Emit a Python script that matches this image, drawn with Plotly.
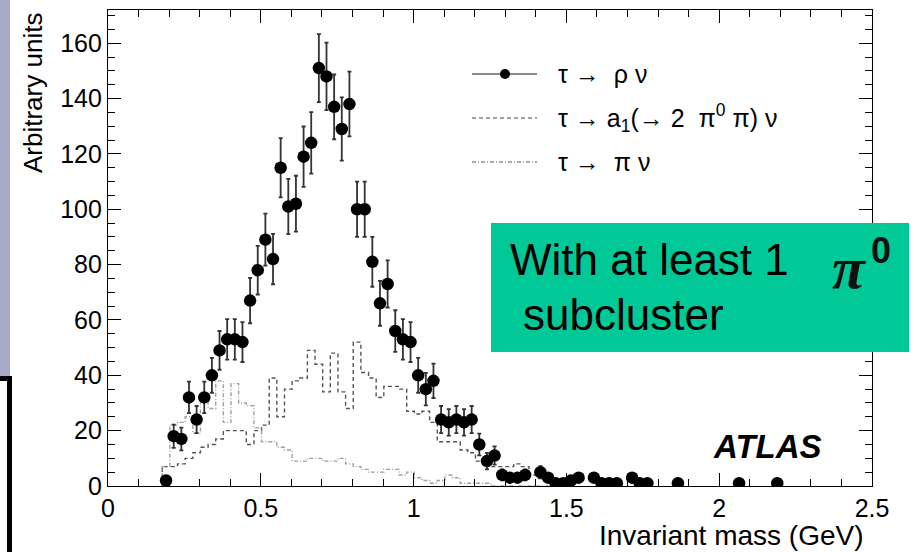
import plotly.graph_objects as go

# ---------------------------------------------------------------------------
# Measured points: bin centre (GeV), entries and statistical uncertainty
# ---------------------------------------------------------------------------
mass = [0.19, 0.215, 0.24, 0.265, 0.29, 0.315, 0.34, 0.365, 0.39, 0.415,
        0.44, 0.465, 0.49, 0.515, 0.54, 0.565, 0.59, 0.615, 0.64, 0.665,
        0.69, 0.715, 0.74, 0.765, 0.79, 0.815, 0.84, 0.865, 0.89, 0.915,
        0.94, 0.965, 0.99, 1.015, 1.04, 1.065, 1.09, 1.115, 1.14, 1.165,
        1.19, 1.215, 1.24, 1.265, 1.29, 1.315, 1.34, 1.365, 1.415, 1.44,
        1.465, 1.49, 1.515, 1.54, 1.59, 1.615, 1.64, 1.665, 1.715, 1.74,
        1.765, 1.865, 2.065, 2.19]
rho_counts = [2, 18, 17, 32, 24, 32, 40, 49, 53, 53,
              52, 67, 78, 89, 82, 115, 101, 102, 119, 124,
              151, 148, 137, 129, 138, 100, 100, 81, 66, 73,
              56, 53, 52, 40, 35, 38, 24, 23, 24, 23,
              24, 15, 9, 11, 4, 3, 3, 4, 5, 3,
              1, 1, 2, 3, 3, 1, 1, 1, 3, 1,
              1, 1, 1, 1]
rho_errors = [1.4, 4.2, 4.1, 5.7, 4.9, 5.7, 6.3, 7.0, 7.3, 7.3,
              7.2, 8.2, 8.8, 9.4, 9.1, 10.7, 10.0, 10.1, 10.9, 11.1,
              12.3, 12.2, 11.7, 11.4, 11.7, 10.0, 10.0, 9.0, 8.1, 8.5,
              7.5, 7.3, 7.2, 6.3, 5.9, 6.2, 4.9, 4.8, 4.9, 4.8,
              4.9, 3.9, 3.0, 3.3, 2.0, 1.7, 1.7, 2.0, 2.2, 1.7,
              1.0, 1.0, 1.4, 1.7, 1.7, 1.0, 1.0, 1.0, 1.7, 1.0,
              1.0, 1.0, 1.0, 1.0]

# ---------------------------------------------------------------------------
# Background templates (0.025 GeV bins)
# ---------------------------------------------------------------------------
hist_centres = [0.19, 0.215, 0.24, 0.265, 0.29, 0.315, 0.34, 0.365, 0.39, 0.415,
                0.44, 0.465, 0.49, 0.515, 0.54, 0.565, 0.59, 0.615, 0.64, 0.665,
                0.69, 0.715, 0.74, 0.765, 0.79, 0.815, 0.84, 0.865, 0.89, 0.915,
                0.94, 0.965, 0.99, 1.015, 1.04, 1.065, 1.09, 1.115, 1.14, 1.165,
                1.19, 1.215, 1.24, 1.265, 1.29, 1.315, 1.34, 1.365, 1.39, 1.415,
                1.44, 1.465, 1.49]
bin_width = 0.025
a1_counts = [7, 7, 8, 10, 12, 14, 15, 17, 20, 20,
             20, 15, 20, 22, 39, 25, 35, 38, 39, 49,
             44, 34, 48, 34, 28, 52, 41, 39, 32, 36,
             36, 35, 27, 26, 27, 23, 16, 16, 16, 13,
             12, 9, 8, 7, 7, 7, 8, 7, 4, 3,
             2, 2, 1]
pi_counts = [7, 22, 23, 25, 19, 32, 28, 38, 23, 37,
             30, 29, 21, 16, 16, 14, 13, 9, 9, 10,
             10, 9, 9, 10, 8, 7, 6, 5, 5, 6,
             6, 4, 5, 3, 2, 1, 2, 4, 3, 1,
             1, 1, 1, 0, 0, 0, 0, 0, 0, 0,
             0, 0, 0]

x_ticks = [0, 0.5, 1, 1.5, 2, 2.5]
x_tick_text = ["0", "0.5", "1", "1.5", "2", "2.5"]
y_ticks = [0, 20, 40, 60, 80, 100, 120, 140, 160]

legend_labels = ["τ →\u00a0\u00a0ρ ν",
                 "τ → a<sub>1</sub>(→ 2\u00a0\u00a0π<sup>0</sup> π) ν",
                 "τ →\u00a0\u00a0π ν"]

# ---------------------------------------------------------------------------
# Page geometry
# ---------------------------------------------------------------------------
W, H = 913, 552
ML, MR, MT, MB = 108, 41, 10, 66
PW, PH = W - ML - MR, H - MT - MB
SANS = "Liberation Sans, Arial, Helvetica, sans-serif"


def px(x):
    """Horizontal page pixel -> paper coordinate."""
    return (x - ML) / PW


def py(y):
    """Vertical page pixel (from top) -> paper coordinate."""
    return (H - MB - y) / PH


def step_outline(centres, values, width):
    xs = [centres[0] - width / 2]
    ys = [0]
    for c, v in zip(centres, values):
        xs.append(c - width / 2)
        ys.append(v)
    xs.append(centres[-1] + width / 2)
    ys.append(values[-1])
    xs.append(centres[-1] + width / 2)
    ys.append(0)
    return xs, ys


fig = go.Figure()

a1_x, a1_y = step_outline(hist_centres, a1_counts, bin_width)
fig.add_trace(go.Scatter(x=a1_x, y=a1_y, mode="lines", line_shape="hv",
                         line=dict(color="#555555", width=1.4, dash="4px,3px"),
                         showlegend=False, hoverinfo="skip"))

pi_x, pi_y = step_outline(hist_centres, pi_counts, bin_width)
fig.add_trace(go.Scatter(x=pi_x, y=pi_y, mode="lines", line_shape="hv",
                         line=dict(color="#a0a0a0", width=1.4,
                                   dash="4px,2px,1px,2px"),
                         showlegend=False, hoverinfo="skip"))

fig.add_trace(go.Scatter(x=mass, y=rho_counts, mode="markers",
                         marker=dict(color="black", size=12.5),
                         error_y=dict(type="data", array=rho_errors,
                                      color="#333333", thickness=1.8, width=2),
                         showlegend=False))

shapes = []
annotations = []

# legend block
legend_rows = [74, 118, 162]
legend_styles = [dict(color="#8a8a8a", width=2, dash="solid"),
                 dict(color="#444444", width=1, dash="4px,3px"),
                 dict(color="#aaaaaa", width=2, dash="4px,2px,1px,2px")]
for row, style, label in zip(legend_rows, legend_styles, legend_labels):
    shapes.append(dict(type="line", xref="paper", yref="paper",
                       x0=px(472), x1=px(537), y0=py(row), y1=py(row),
                       line=style, layer="above"))
    annotations.append(dict(text=label, xref="paper", yref="paper",
                            x=px(556), y=py(row), xanchor="left",
                            yanchor="middle", showarrow=False,
                            font=dict(family=SANS, size=25, color="black")))
shapes.append(dict(type="circle", xref="paper", yref="paper",
                   xsizemode="pixel", ysizemode="pixel",
                   xanchor=px(505), yanchor=py(legend_rows[0]),
                   x0=-5, x1=5, y0=-5, y1=5,
                   fillcolor="black", line=dict(color="black", width=0),
                   layer="above"))

# highlighted caption box
shapes.append(dict(type="rect", xref="paper", yref="paper",
                   x0=px(491), x1=px(909), y0=py(352), y1=py(223),
                   fillcolor="#00c997", line=dict(width=0), layer="above"))
annotations.append(dict(text="With at least 1", xref="paper", yref="paper",
                        x=px(508), y=py(259), xanchor="left", yanchor="middle",
                        showarrow=False,
                        font=dict(family=SANS, size=44, color="black")))
annotations.append(dict(text="subcluster", xref="paper", yref="paper",
                        x=px(521), y=py(314), xanchor="left", yanchor="middle",
                        showarrow=False,
                        font=dict(family=SANS, size=44, color="black")))
annotations.append(dict(text="<b><i>π</i></b>", xref="paper", yref="paper",
                        x=px(849), y=py(268), xanchor="center",
                        yanchor="middle", showarrow=False,
                        font=dict(family="Liberation Serif, serif", size=60,
                                  color="#111111")))
annotations.append(dict(text="<b>0</b>", xref="paper", yref="paper",
                        x=px(881), y=py(250), xanchor="center",
                        yanchor="middle", showarrow=False,
                        font=dict(family=SANS, size=36, color="#111111")))

# experiment label
annotations.append(dict(text="<b><i>ATLAS</i></b>", xref="paper", yref="paper",
                        x=px(824), y=py(446), xanchor="right",
                        yanchor="middle", showarrow=False,
                        font=dict(family=SANS, size=33, color="black")))

# axis titles
annotations.append(dict(text="Invariant mass (GeV)", xref="paper",
                        yref="paper", x=px(866), y=py(535), xanchor="right",
                        yanchor="middle", showarrow=False,
                        font=dict(family=SANS, size=28, color="black")))
annotations.append(dict(text="Arbitrary units", xref="paper", yref="paper",
                        x=px(33), y=py(11), xanchor="center", yanchor="top",
                        textangle=-90, showarrow=False,
                        font=dict(family=SANS, size=26, color="black")))

# page-edge decorations on the left
shapes.append(dict(type="rect", xref="paper", yref="paper",
                   x0=px(0), x1=px(10), y0=py(376), y1=py(0),
                   fillcolor="#a9a9c8", line=dict(width=0), layer="above"))
shapes.append(dict(type="rect", xref="paper", yref="paper",
                   x0=px(0), x1=px(12), y0=py(381), y1=py(376),
                   fillcolor="black", line=dict(width=0), layer="above"))
shapes.append(dict(type="rect", xref="paper", yref="paper",
                   x0=px(7), x1=px(12), y0=py(552), y1=py(376),
                   fillcolor="black", line=dict(width=0), layer="above"))

axis_common = dict(showline=True, linecolor="black", linewidth=1.2,
                   mirror="allticks", ticks="inside", tickcolor="black",
                   tickwidth=1.2, showgrid=False, zeroline=False,
                   tickfont=dict(family=SANS, size=25, color="black"))

fig.update_layout(
    width=W, height=H,
    margin=dict(l=ML, r=MR, t=MT, b=MB),
    paper_bgcolor="white", plot_bgcolor="white",
    showlegend=False,
    shapes=shapes, annotations=annotations,
    xaxis=dict(range=[0, 2.5], tickvals=x_ticks, ticktext=x_tick_text,
               ticklen=13,
               minor=dict(ticks="inside", dtick=0.1, ticklen=7,
                          tickcolor="black", tickwidth=1.2),
               **axis_common),
    yaxis=dict(range=[0, 172], tickvals=y_ticks, ticklen=13,
               minor=dict(ticks="inside", dtick=5, ticklen=7,
                          tickcolor="black", tickwidth=1.2),
               **axis_common),
)

fig.write_html("out.html")
